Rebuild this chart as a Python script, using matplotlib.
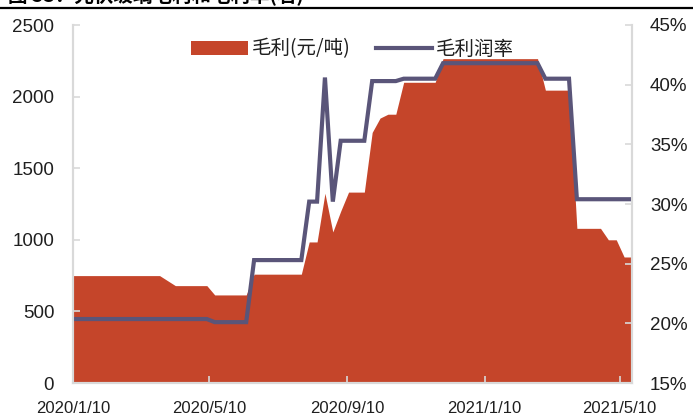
import numpy as np
import pandas as pd
import matplotlib
matplotlib.use('Agg')
import matplotlib.pyplot as plt
from matplotlib.lines import Line2D
from matplotlib.patches import Patch

plt.rcParams['font.family'] = ['Liberation Sans', 'Noto Sans CJK SC', 'DejaVu Sans']

# 周度数据 (2020/1/10 起, 每周五)
dates = pd.date_range('2020-01-10', periods=72, freq='7D')

# 毛利(元/吨)
gross_profit = (
    [750] * 12 + [715] + [680] * 5 + [615] * 5 + [760] * 7 + [985] * 2
    + [1325, 1055, 1200] + [1333] * 3 + [1750, 1850, 1877, 1877]
    + [2100] * 5 + [2265] * 13 + [2045] * 4 + [1080] * 4 + [1000] * 2 + [880] * 2
)

# 毛利润率(%)
gross_margin = (
    [20.36] * 18 + [20.1] * 5 + [25.3] * 7 + [30.2] * 2
    + [40.6, 30.2] + [35.3] * 4 + [40.3] * 4 + [40.5] * 5
    + [41.8] * 13 + [40.5] * 4 + [30.4] * 8
)

tick_dates = pd.to_datetime(['2020-01-10', '2020-05-10', '2020-09-10',
                             '2021-01-10', '2021-05-10'])
tick_labels = ['2020/1/10', '2020/5/10', '2020/9/10', '2021/1/10', '2021/5/10']

area_color = '#C5452A'
line_color = '#5A5579'
grey = '#D9D9D9'
text_color = '#1F1F1F'

fig = plt.figure(figsize=(6.93, 4.19), dpi=100)
ax = fig.add_axes([73 / 693, 1 - 383 / 419, (632 - 73) / 693, (383 - 25) / 419])
ax2 = ax.twinx()

ax.fill_between(dates, 0, gross_profit, color=area_color, lw=0)
ax2.plot(dates, gross_margin, color=line_color, lw=3.0, solid_joinstyle='miter')

ax.set_xlim(dates[0], dates[-1])
ax.set_ylim(0, 2500)
ax.set_yticks(np.arange(0, 2501, 500))
ax2.set_ylim(15, 45)
ax2.set_yticks(np.arange(15, 46, 5))
ax2.set_yticklabels([f'{v}%' for v in range(15, 46, 5)])
ax.set_xticks(tick_dates)
ax.set_xticklabels(tick_labels)

for a in (ax, ax2):
    for s in a.spines.values():
        s.set_color(grey)
        s.set_linewidth(1.5)
    a.spines['top'].set_visible(False)

ax.tick_params(axis='y', direction='in', length=5, width=1.2, color=grey,
               labelsize=13.5, labelcolor=text_color, pad=13.5)
ax2.tick_params(axis='y', direction='in', length=5, width=1.2, color=grey,
                labelsize=13.5, labelcolor=text_color, pad=13)
ax.tick_params(axis='x', direction='in', length=5, width=1.2, color=grey,
               labelsize=12, labelcolor=text_color, pad=13)

handles = [Patch(facecolor=area_color, edgecolor='none'),
           Line2D([0], [0], color=line_color, lw=3.0)]
leg = ax2.legend(handles, ['毛利(元/吨)', '毛利润率'], loc='upper center',
                 bbox_to_anchor=(0.5, 1.0), ncol=2, frameon=False,
                 prop={'family': ['Noto Sans CJK SC'], 'size': 14},
                 handlelength=2.9, handleheight=0.7, handletextpad=0.2,
                 columnspacing=1.3, borderaxespad=0.3)
for t in leg.get_texts():
    t.set_color(text_color)

# 标题 (页面顶端) 及分隔线
fig.text(0.012, 1 - 1.5 / 419, '图 53：光伏玻璃毛利和毛利率(右)', ha='left', va='baseline',
         fontsize=14, fontweight='bold', family=['Noto Sans CJK SC'], color='black')
fig.add_artist(Line2D([0, 1], [1 - 7.8 / 419] * 2, transform=fig.transFigure,
                      color='black', lw=1.6))

fig.savefig('out.png', dpi=100)
